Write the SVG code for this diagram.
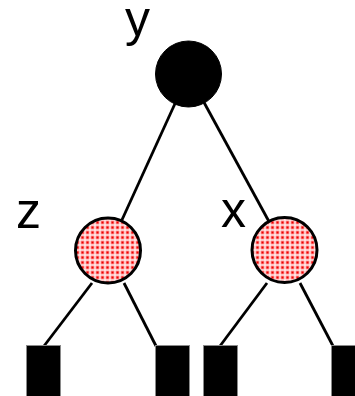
<svg xmlns="http://www.w3.org/2000/svg" width="355" height="396" viewBox="0 0 355 396">
<defs>
<pattern id="dots" x="0" y="0" width="5" height="5" patternUnits="userSpaceOnUse">
<rect width="5" height="5" fill="#ffffff"/>
<rect x="0.5" y="0.5" width="4" height="4" fill="#ff8c8c"/>
<rect x="1.5" y="1.5" width="2" height="2" fill="#ee0000"/>
</pattern>
<style>
.edge{stroke:#000;stroke-width:2.8;fill:none}
.inner{fill:url(#dots);stroke:#000;stroke-width:3}
.root{fill:#000;stroke:#000;stroke-width:1}
.leaf{fill:#000;stroke:#8a8a8a;stroke-width:1}
.lbl{font-family:"Liberation Sans",Arial,sans-serif;font-size:50px;fill:#000}
</style>
</defs>
<g id="connectors">
<line class="edge" x1="188.5" y1="74" x2="108" y2="250.5"/>
<line class="edge" x1="188.5" y1="74" x2="284.5" y2="250"/>
<line class="edge" x1="92" y1="283" x2="44" y2="346"/>
<line class="edge" x1="124" y1="283" x2="156" y2="346"/>
<line class="edge" x1="267" y1="283" x2="220" y2="346"/>
<line class="edge" x1="300" y1="283" x2="333" y2="346"/>
</g>
<g id="node-y">
<circle class="root" cx="188.5" cy="74" r="33"/>
<text class="lbl" x="125" y="36">y</text>
</g>
<g id="node-z">
<circle class="inner" cx="108" cy="250.5" r="32.5"/>
<text class="lbl" x="16" y="228">z</text>
</g>
<g id="node-x">
<circle class="inner" cx="284.5" cy="250" r="32.5"/>
<text class="lbl" x="221" y="227">x</text>
</g>
<g id="leaf-1"><rect class="leaf" x="26.5" y="345.5" width="34" height="60"/></g>
<g id="leaf-2"><rect class="leaf" x="155.5" y="345.5" width="34" height="60"/></g>
<g id="leaf-3"><rect class="leaf" x="203.5" y="345.5" width="34" height="60"/></g>
<g id="leaf-4"><rect class="leaf" x="331.5" y="345.5" width="34" height="60"/></g>
</svg>
